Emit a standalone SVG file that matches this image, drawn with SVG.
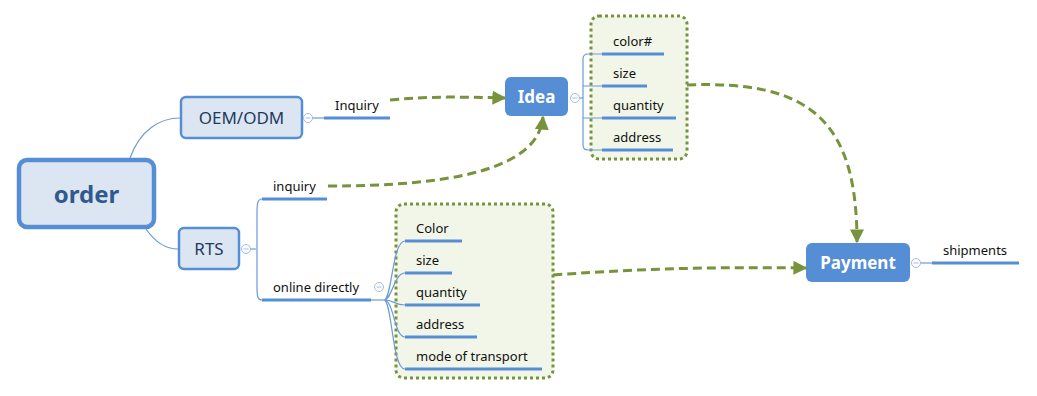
<svg xmlns="http://www.w3.org/2000/svg" width="1037" height="396" viewBox="0 0 1037 396">
<style>
.t{font-family:"Noto Sans","Open Sans","DejaVu Sans",sans-serif;font-size:13px;fill:#111}
.ul{stroke:#558ed5;stroke-width:3;fill:none}
.br{stroke:#6a9ad8;stroke-width:1.2;fill:none}
.sub{fill:#dce6f2;stroke:#558ed5;stroke-width:2.5}
.sub text{font-family:"Noto Sans","Open Sans",sans-serif;font-size:17px;fill:#1f3a5f}
.main{fill:#558ed5;stroke:none}
.mt{font-family:"Noto Sans","Open Sans",sans-serif;font-size:17px;font-weight:bold;fill:#fff}
.dash{stroke:#77933c;stroke-width:3;fill:none;stroke-dasharray:9 5}
.grp{fill:#f2f6e8;stroke:#77933c;stroke-width:3;stroke-dasharray:3 3}
.cc{fill:#fff;stroke:#a7badf;stroke-width:1}
.cm{stroke:#a7badf;stroke-width:1}
</style>
<defs>
<marker id="ah" viewBox="0 0 10 10" refX="9" refY="5" markerWidth="14" markerHeight="14" markerUnits="userSpaceOnUse" orient="auto">
<path d="M0,0 L10,5 L0,10 z" fill="#77933c"/>
</marker>
</defs>

<g id="boundaries">
<rect class="grp" x="591" y="16" width="96" height="143" rx="8"/>
<rect class="grp" x="396" y="204" width="157" height="174" rx="8"/>
</g>

<g id="branches">
<path class="br" d="M130,158 C140,130 160,118 180,118"/>
<path class="br" d="M146,229 C155,242 165,249 178,249"/>
<path class="br" d="M312,118 L324,118"/>
<path class="br" d="M250,249 L256,249"/>
<path class="br" d="M262,199 C257,199 257,205 257,215 L257,285 C257,295 257,300 262,300"/>
<path class="br" d="M579,98 L583,98"/>
<path class="br" d="M602,54 L588,54 Q583,54 583,59 L583,145 Q583,150 588,150 L602,150 M583,86 L602,86 M583,118 L602,118"/>
<path class="br" d="M371,300 L384,300"/>
<path class="br" d="M384,300 C392,300 392,241 405,241 M384,300 C392,300 394,273 405,273 M384,300 C394,300 394,305 405,305 M384,300 C394,300 394,337 405,337 M384,300 C392,300 392,369 405,369"/>
<path class="br" d="M920,263 L932,263"/>
</g>

<g id="order">
<rect x="19" y="160" width="135" height="67" rx="8" fill="#dce6f2" stroke="#558ed5" stroke-width="4.5"/>
<text x="86.5" y="203" text-anchor="middle" font-family="Noto Sans,Open Sans,sans-serif" font-size="24" font-weight="bold" fill="#2f5a8e">order</text>
</g>

<g id="oem" class="sub">
<rect x="181" y="97" width="121" height="41" rx="5"/>
<text x="241.5" y="124" text-anchor="middle" stroke="none">OEM/ODM</text>
<circle class="cc" cx="308" cy="118" r="4.5"/><path class="cm" d="M305.5,118 L310.5,118"/>
</g>

<g id="rts" class="sub">
<rect x="179" y="228" width="60" height="41" rx="5"/>
<text x="209" y="255" text-anchor="middle" stroke="none">RTS</text>
<circle class="cc" cx="246" cy="249" r="4.5"/><path class="cm" d="M243.5,249 L248.5,249"/>
</g>

<g id="inquiry1">
<text class="t" x="335" y="110">Inquiry</text>
<path class="ul" d="M324,118 L390,118"/>
</g>

<g id="inquiry2">
<text class="t" x="273" y="191">inquiry</text>
<path class="ul" d="M262,199 L327,199"/>
</g>

<g id="online">
<text class="t" x="273" y="292">online directly</text>
<path class="ul" d="M262,300 L371,300"/>
<circle class="cc" cx="379" cy="287" r="4.5"/><path class="cm" d="M376.5,287 L381.5,287"/>
</g>

<g id="idea">
<rect class="main" x="505" y="77" width="63" height="39" rx="6"/>
<text class="mt" x="536.5" y="103" text-anchor="middle">Idea</text>
<circle class="cc" cx="575" cy="98" r="4.5"/><path class="cm" d="M572.5,98 L577.5,98"/>
</g>

<g id="idea-children">
<text class="t" x="613" y="46">color#</text><path class="ul" d="M602,54 L664,54"/>
<text class="t" x="613" y="78">size</text><path class="ul" d="M602,86 L647,86"/>
<text class="t" x="613" y="110">quantity</text><path class="ul" d="M602,118 L676,118"/>
<text class="t" x="613" y="142">address</text><path class="ul" d="M602,150 L673,150"/>
</g>

<g id="online-children">
<text class="t" x="416" y="233">Color</text><path class="ul" d="M405,241 L462,241"/>
<text class="t" x="416" y="265">size</text><path class="ul" d="M405,273 L452,273"/>
<text class="t" x="416" y="297">quantity</text><path class="ul" d="M405,305 L480,305"/>
<text class="t" x="416" y="329">address</text><path class="ul" d="M405,337 L477,337"/>
<text class="t" x="416" y="361">mode of transport</text><path class="ul" d="M405,369 L542,369"/>
</g>

<g id="payment">
<rect class="main" x="806" y="243" width="104" height="39" rx="6"/>
<text class="mt" x="858" y="269" text-anchor="middle">Payment</text>
<circle class="cc" cx="916" cy="263" r="4.5"/><path class="cm" d="M913.5,263 L918.5,263"/>
</g>

<g id="shipments">
<text class="t" x="943" y="255">shipments</text>
<path class="ul" d="M932,263 L1019,263"/>
</g>

<g id="connectors">
<path class="dash" d="M390,100 C430,96 465,97 505,98" marker-end="url(#ah)"/>
<path class="dash" d="M328,186 C450,186 538,170 543,117" marker-end="url(#ah)"/>
<path class="dash" d="M687,85 C810,80 857,120 857,242" marker-end="url(#ah)"/>
<path class="dash" d="M553,275 C650,268 720,267 806,268" marker-end="url(#ah)"/>
</g>
</svg>
